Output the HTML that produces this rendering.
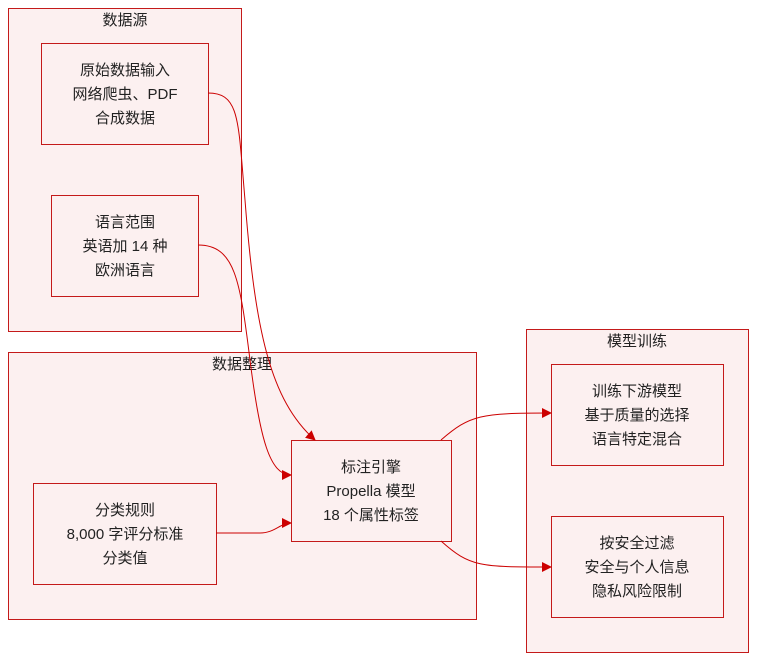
<!DOCTYPE html>
<html><head><meta charset="utf-8"><style>
html,body{margin:0;padding:0;background:#fff;}
text{font-family:"Liberation Sans","Noto Sans CJK SC",sans-serif;font-size:15px;fill:#222;text-anchor:middle;}
.g{fill:#fcf0f0;stroke:#c41a1a;stroke-width:1;}
.n{fill:#fcf0f0;stroke:#c41a1a;stroke-width:1;}
.e{fill:none;stroke:#cc0000;stroke-width:1;}
</style></head><body>
<svg width="757" height="661" xmlns="http://www.w3.org/2000/svg">
<defs><marker id="a" markerWidth="10" markerHeight="10" refX="9" refY="5" orient="auto" markerUnits="userSpaceOnUse"><path d="M0,0 L10,5 L0,10 z" fill="#cc0000"/></marker></defs>
<rect class="g" x="8.5" y="8.5" width="233" height="323"/>
<text x="125" y="25">数据源</text>
<rect class="g" x="8.5" y="352.5" width="468" height="267"/>
<text x="242" y="369">数据整理</text>
<rect class="g" x="526.5" y="329.5" width="222" height="323"/>
<text x="637" y="346">模型训练</text>

<rect class="n" x="41.5" y="43.5" width="167" height="101"/>
<text x="125" y="75">原始数据输入</text><text x="125" y="99">网络爬虫、PDF</text><text x="125" y="123">合成数据</text>
<rect class="n" x="51.5" y="195.5" width="147" height="101"/>
<text x="125" y="227">语言范围</text><text x="125" y="251">英语加 14 种</text><text x="125" y="275">欧洲语言</text>
<rect class="n" x="291.5" y="440.5" width="160" height="101"/>
<text x="371" y="472">标注引擎</text><text x="371" y="496">Propella 模型</text><text x="371" y="520">18 个属性标签</text>
<rect class="n" x="33.5" y="483.5" width="183" height="101"/>
<text x="125" y="515">分类规则</text><text x="125" y="539">8,000 字评分标准</text><text x="125" y="563">分类值</text>
<rect class="n" x="551.5" y="364.5" width="172" height="101"/>
<text x="637" y="396">训练下游模型</text><text x="637" y="420">基于质量的选择</text><text x="637" y="444">语言特定混合</text>
<rect class="n" x="551.5" y="516.5" width="172" height="101"/>
<text x="637" y="548">按安全过滤</text><text x="637" y="572">安全与个人信息</text><text x="637" y="596">隐私风险限制</text>

<path class="e" marker-end="url(#a)" d="M208,93 C240,93 238,120 245,200 C255,330 270,400 315,440"/>
<path class="e" marker-end="url(#a)" d="M198,245 C235,245 240,280 250,360 C260,440 270,475 291,475"/>
<path class="e" marker-end="url(#a)" d="M216,533 L260,533 C275,533 280,523 291,523"/>
<path class="e" marker-end="url(#a)" d="M441,440 C470,415 480,413 551,413"/>
<path class="e" marker-end="url(#a)" d="M441,541 C470,567 480,567 551,567"/>
</svg>
</body></html>
